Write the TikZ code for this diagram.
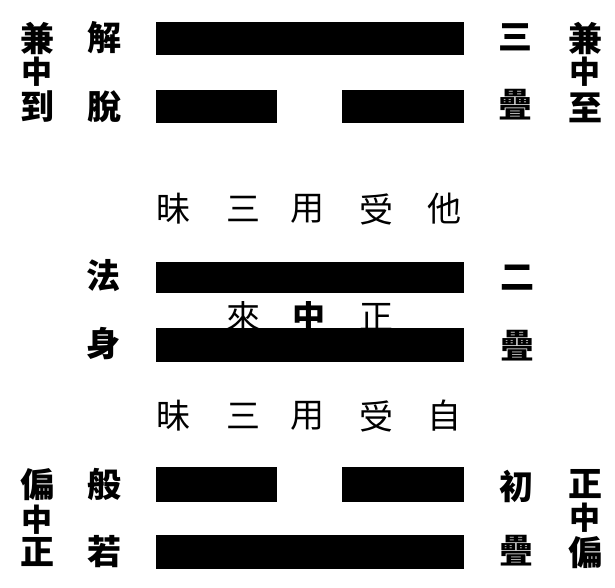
\documentclass[tikz,border=0pt]{standalone}
\usepackage{fontspec}
\newfontfamily\cjk{Noto Sans CJK TC}
\begin{document}
\begin{tikzpicture}[x=1pt,y=-1pt,
  lbl/.style={font=\cjk\bfseries\fontsize{34}{34}\selectfont, inner sep=0pt, outer sep=0pt},
  midl/.style={font=\cjk\bfseries\fontsize{31}{31}\selectfont, inner sep=0pt, outer sep=0pt},
  rowl/.style={font=\cjk\fontsize{34}{34}\selectfont, inner sep=0pt, outer sep=0pt},
  bar/.style={fill=black, draw=none}]
\useasboundingbox[fill=white] (0,0) rectangle (615,588);

% top trigram pair
\fill[bar] (156,22) rectangle (464,55);
\fill[bar] (156,90) rectangle (277,123);
\fill[bar] (342,90) rectangle (464,123);

\node[lbl] (l1a) at (37,38) {兼};
\node[midl] (l1b) at (37,72) {中};
\node[lbl] (l1c) at (37,107) {到};
\node[lbl] (m1a) at (104,38) {解};
\node[lbl] (m1b) at (104,107) {脫};
\node[lbl] (r1a) at (515,37) {三};
\node[lbl] (r1b) at (515,105) {疊};
\node[lbl] (s1a) at (585,38) {兼};
\node[midl] (s1b) at (585,72) {中};
\node[lbl] (s1c) at (585,108) {至};

% row: 昧三用受他
\node[rowl] (ta) at (173,209) {昧};
\node[rowl] (tb) at (243,209) {三};
\node[rowl] (tc) at (307,209) {用};
\node[rowl] (td) at (376,209) {受};
\node[rowl] (te) at (444,209) {他};

% middle
\begin{scope}
  \clip (200,301) rectangle (420,345);
  \node[rowl] (ca) at (243,317) {來};
  \node[rowl,font=\cjk\bfseries\fontsize{33}{33}\selectfont] (cb) at (309,316) {中};
  \node[rowl] (cc) at (376,317) {正};
\end{scope}
\fill[bar] (156,262) rectangle (464,293);
\fill[bar] (156,328) rectangle (464,362);
\node[lbl] (m2a) at (103,276) {法};
\node[lbl] (m2b) at (103,344) {身};
\node[lbl] (r2a) at (517,278) {二};
\node[lbl] (r2b) at (517,346) {疊};

% row: 昧三用受自
\node[rowl] (ua) at (173,416) {昧};
\node[rowl] (ub) at (243,416) {三};
\node[rowl] (uc) at (307,416) {用};
\node[rowl] (ud) at (376,416) {受};
\node[rowl] (ue) at (444,416) {自};

% bottom trigram pair
\fill[bar] (156,467) rectangle (277,502);
\fill[bar] (342,467) rectangle (464,502);
\fill[bar] (156,535) rectangle (464,569);

\node[lbl] (l3a) at (37,485) {偏};
\node[midl] (l3b) at (37,520) {中};
\node[lbl] (l3c) at (37,552) {正};
\node[lbl] (m3a) at (104,485) {般};
\node[lbl] (m3b) at (104,552) {若};
\node[lbl] (r3a) at (516,486) {初};
\node[lbl] (r3b) at (516,551) {疊};
\node[lbl] (s3a) at (585,484) {正};
\node[midl] (s3b) at (585,518) {中};
\node[lbl] (s3c) at (585,553) {偏};
\end{tikzpicture}
\end{document}
